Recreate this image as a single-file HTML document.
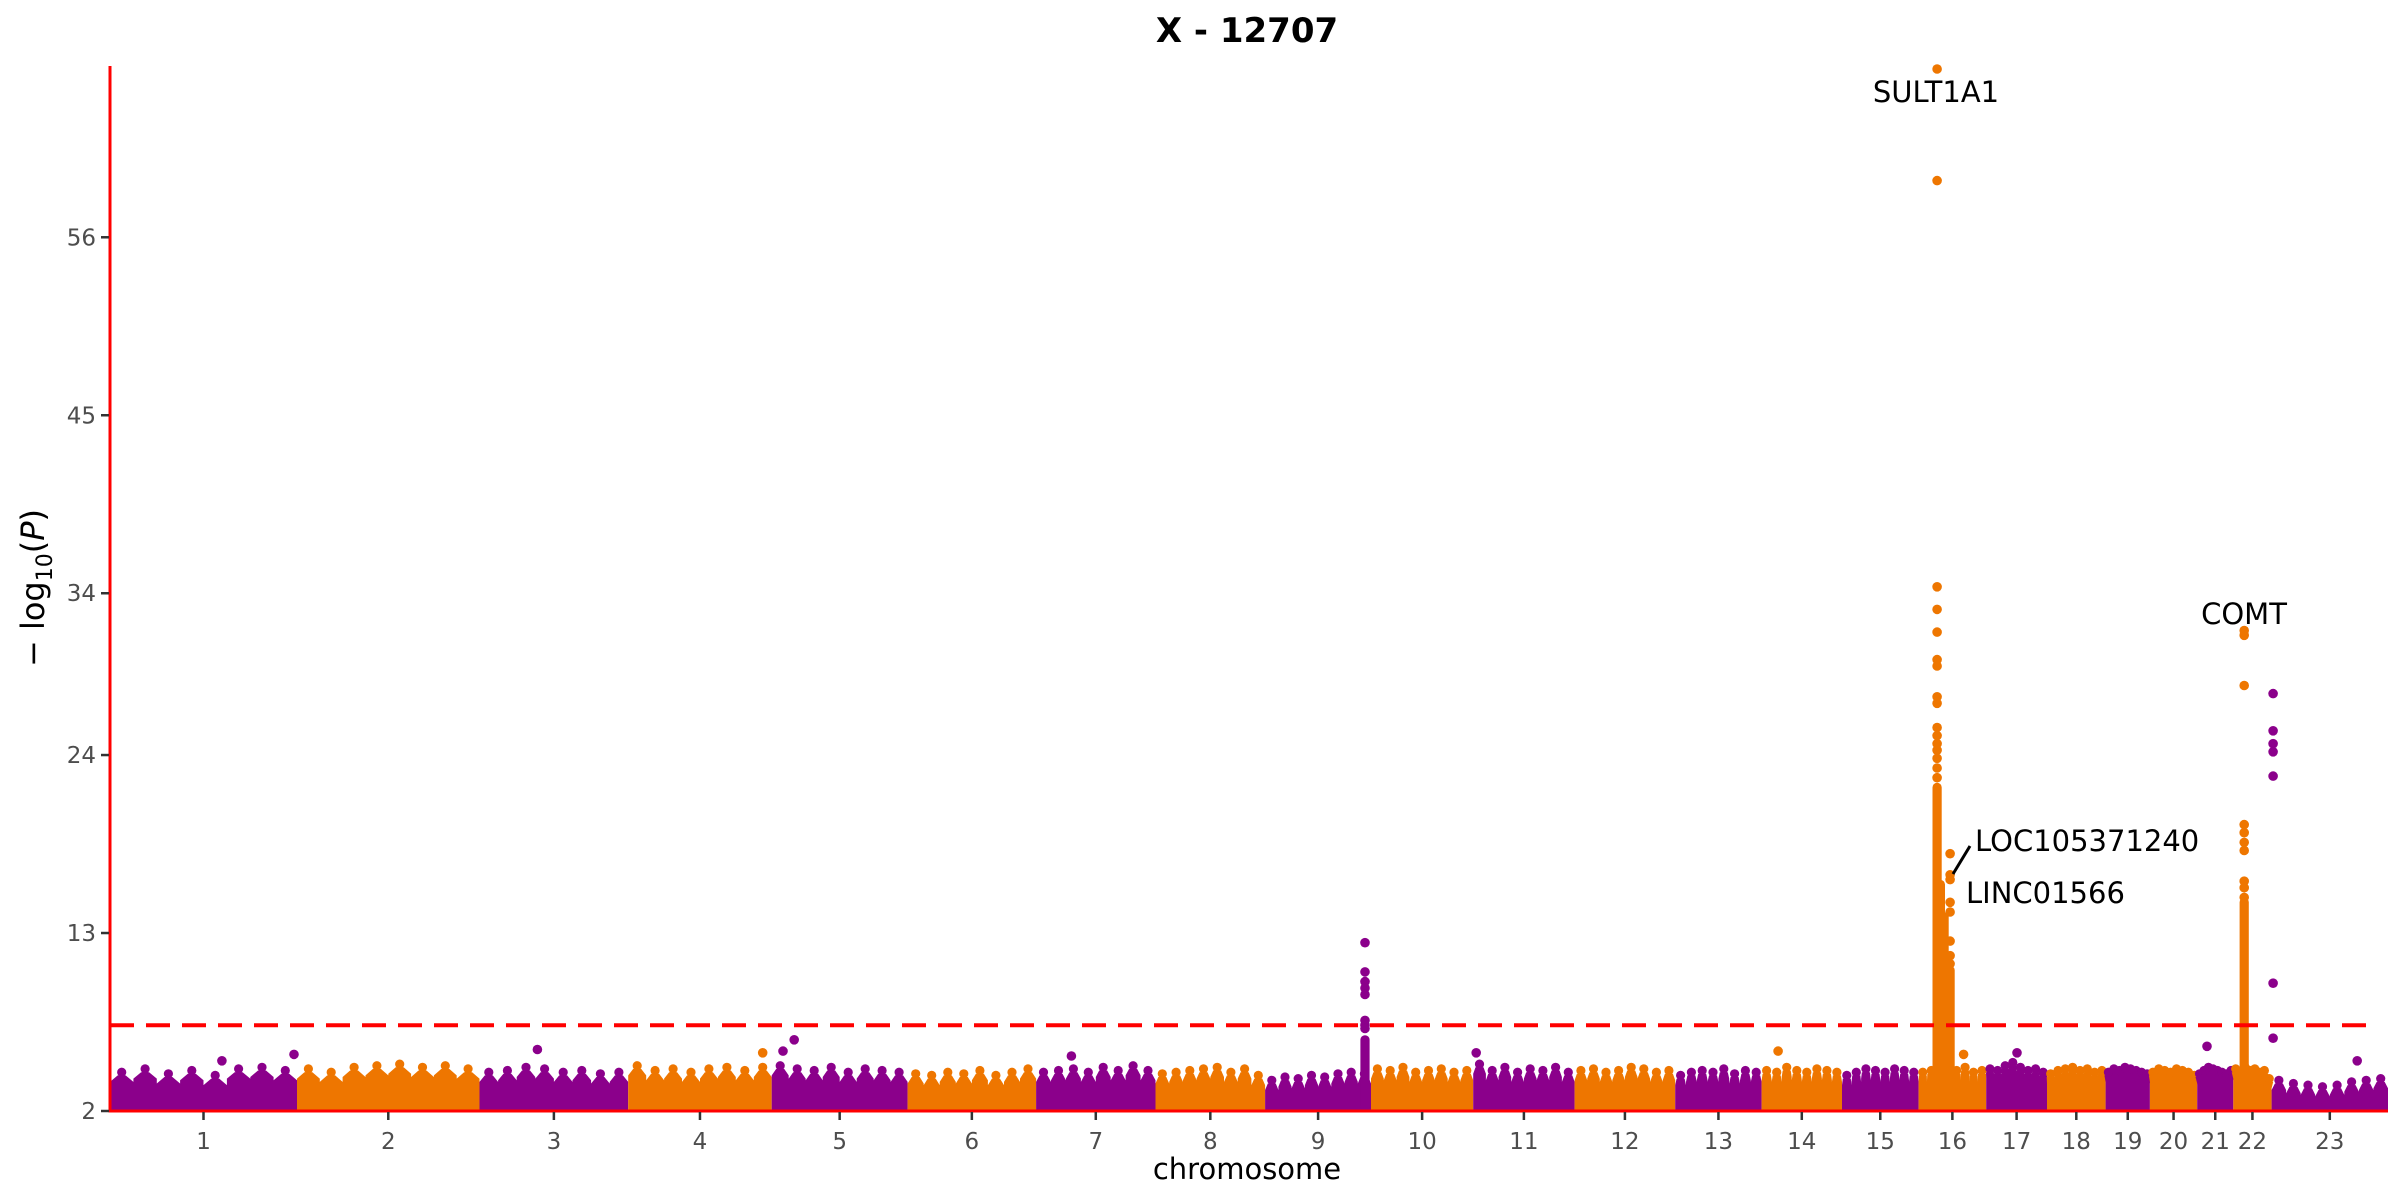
<!DOCTYPE html>
<html><head><meta charset="utf-8"><style>
html,body{margin:0;padding:0;background:#fff;}
svg{display:block;font-family:"DejaVu Sans","Liberation Sans",sans-serif;}
</style></head><body>
<svg id="chart" width="2400" height="1200" viewBox="0 0 2400 1200" xmlns="http://www.w3.org/2000/svg">
<text x="1247" y="42" text-anchor="middle" font-size="34" font-weight="bold" fill="#000">X - 12707</text>
<text transform="translate(44,588) rotate(-90)" text-anchor="middle" font-size="32" fill="#000">− log<tspan font-size="22" dy="8">10</tspan><tspan dy="-8">(</tspan><tspan font-style="italic">P</tspan>)</text>
<text x="1247" y="1179" text-anchor="middle" font-size="29" fill="#000">chromosome</text>
<g id="marks"></g>
<g id="axes"></g>
<g id="annot">
<text x="1936" y="102" text-anchor="middle" font-size="29">SULT1A1</text>
<text x="2244" y="624" text-anchor="middle" font-size="29">COMT</text>
<text x="1975" y="851" font-size="29">LOC105371240</text>
<text x="1966" y="903" font-size="29">LINC01566</text>
<line x1="1970" y1="846" x2="1953" y2="874" stroke="#000" stroke-width="3"/>
</g>
</svg>
<script>
const chrLengths=[249,243,198,191,181,171,159,146,141,136,135,134,115,107,102,90,81,78,59,63,48,51,155];
const chrLabels=["1","2","3","4","5","6","7","8","9","10","11","12","13","14","15","16","17","18","19","20","21","22","23"];
const yTicks=[2,13,24,34,45,56];
const threshold=7.3;
// background envelope heights (-log10 P) per chromosome, 8 samples each
const envelope=[
[4.4,4.6,4.3,4.5,4.2,4.6,4.7,4.5],
[4.6,4.4,4.7,4.8,4.9,4.7,4.8,4.6],
[4.4,4.5,4.7,4.6,4.4,4.5,4.3,4.4],
[4.8,4.5,4.6,4.4,4.6,4.7,4.5,4.7],
[4.8,4.6,4.5,4.7,4.4,4.6,4.5,4.4],
[4.3,4.2,4.4,4.3,4.5,4.2,4.4,4.6],
[4.4,4.5,4.6,4.4,4.7,4.5,4.8,4.5],
[4.3,4.4,4.5,4.6,4.7,4.4,4.6,4.2],
[3.9,4.1,4.0,4.2,4.1,4.3,4.4,4.3],
[4.6,4.5,4.7,4.4,4.5,4.6,4.4,4.5],
[4.9,4.5,4.7,4.4,4.6,4.5,4.7,4.4],
[4.5,4.6,4.4,4.5,4.7,4.6,4.4,4.5],
[4.2,4.4,4.5,4.4,4.6,4.3,4.5,4.4],
[4.5,4.4,4.7,4.5,4.4,4.6,4.5,4.4],
[4.2,4.4,4.6,4.5,4.4,4.6,4.5,4.4],
[4.4,4.5,4.6,4.4,4.5,4.7,4.4,4.5],
[4.6,4.5,4.8,5.0,4.7,4.5,4.6,4.4],
[4.3,4.5,4.6,4.7,4.5,4.6,4.4,4.5],
[4.4,4.6,4.5,4.7,4.6,4.5,4.4,4.3],
[4.4,4.6,4.5,4.4,4.6,4.5,4.4,4.2],
[4.3,4.5,4.7,4.6,4.5,4.4,4.3,4.5],
[4.6,4.4,4.7,4.5,4.6,4.4,4.5,4.0],
[3.9,3.7,3.6,3.5,3.6,3.8,3.9,4.0]
];
// dense significant columns: chromosome, position (Mb), top value
const colChr=[16,16,16,16,22,9];
const colPos=[24.7,29,34,42,14.5,133];
const colTop=[22.0,16.0,14.0,10.7,14.9,6.4];
// individual points: chromosome, position (Mb), value
const ptChr=[16,16,16,16,16,16,16,16,16,16,16,16,16,16,16,16, 16,16,16,16,16,16,16,16,
22,22,22,22,22,22,22,22,22,22, 23,23,23,23,23,23,23, 9,9,9,9,9,9,9,9,
1,1,3,4,5,5,7,11,14,16,17,21,23];
const ptPos=[24.7,24.7,24.7,24.7,24.7,24.7,24.7,24.7,24.7,24.7,24.7,24.7,24.7,24.7,24.7,24.7, 42,42,42,42,42,42,42,42,
14.5,14.5,14.5,14.5,14.5,14.5,14.5,14.5,14.5,14.5, 2,2,2,2,2,2,2, 133,133,133,133,133,133,133,133,
149,245,77,179,15,30,47,4,22,60,41,13,114];
const ptVal=[66.4,59.5,34.4,33.0,31.6,29.9,29.5,27.6,27.2,25.7,25.2,24.7,24.3,23.8,23.2,22.6, 17.9,16.6,16.3,14.9,14.3,12.5,11.6,11.1,
31.7,31.4,28.3,19.7,19.2,18.6,18.1,16.2,15.8,15.2, 27.8,25.5,24.7,24.2,22.7,9.9,6.5, 12.4,10.6,10.0,9.6,9.2,7.6,7.3,7.1,
5.1,5.5,5.8,5.6,5.7,6.4,5.4,5.6,5.7,5.5,5.6,6.0,5.1];

const NS="http://www.w3.org/2000/svg";
const X0=110,X1=2388,Y0=1111,YMIN=2,PXU=16.18;
const total=chrLengths.reduce((a,b)=>a+b,0);
const cum=[];let acc=0;for(const L of chrLengths){cum.push(acc);acc+=L;}
const kx=(X1-X0)/total;
function xs(chr,pos){return X0+(cum[chr-1]+pos)*kx;}
function ys(v){return Y0-(v-YMIN)*PXU;}
function col(chr){return chr%2===1?"#8B008B":"#EE7600";}
function mk(tag,attrs,parent){const e=document.createElementNS(NS,tag);for(const k in attrs)e.setAttribute(k,attrs[k]);parent.appendChild(e);return e;}
const marks=document.getElementById("marks");
const axes=document.getElementById("axes");

// background bands
envelope.forEach((env,ci)=>{
  const chr=ci+1,L=chrLengths[ci],n=env.length,c=col(chr);
  const g=mk("g",{},marks);
  
  
  let d="M"+xs(chr,0).toFixed(1)+","+Y0;
  env.forEach((v,i)=>{
    const a=xs(chr,L*i/n),b=xs(chr,L*(i+1)/n),m=(a+b)/2;
    const low=ys(Math.max(YMIN,v-0.6));
    d+=" L"+a.toFixed(1)+","+low.toFixed(1)+" L"+(m-4).toFixed(1)+","+ys(v-0.2).toFixed(1)+" L"+(m+4).toFixed(1)+","+ys(v-0.2).toFixed(1)+" L"+b.toFixed(1)+","+low.toFixed(1);
  });
  d+=" L"+xs(chr,L).toFixed(1)+","+Y0+" Z";
  mk("path",{d:d,fill:c},g);
  env.forEach((v,i)=>{
    const m=xs(chr,L*(i+0.5)/n);
    const p=mk("circle",{cx:m.toFixed(1),cy:ys(v).toFixed(1),r:4.6,fill:c},g);
    
    
  });
});
// dense columns
colChr.forEach((chr,i)=>{
  const x=xs(chr,colPos[i]),top=ys(colTop[i]);
  const r=mk("rect",{x:(x-4.6).toFixed(1),y:(top-4.6).toFixed(1),width:9.2,height:(Y0-top+4.6).toFixed(1),rx:4.6,fill:col(chr)},marks);
  
  
});
// points
ptChr.forEach((chr,i)=>{
  const p=mk("circle",{cx:xs(chr,ptPos[i]).toFixed(1),cy:ys(ptVal[i]).toFixed(1),r:4.8,fill:col(chr)},marks);
  
  
});
// threshold line
const th=mk("line",{x1:X0,x2:2378,y1:ys(threshold),y2:ys(threshold),stroke:"#FF0000","stroke-width":4,"stroke-dasharray":"24,12"},axes);


// axes lines
const ya=mk("line",{x1:X0,x2:X0,y1:66,y2:Y0+1.5,stroke:"#FF0000","stroke-width":3},axes);


const xa=mk("line",{x1:X0-1.5,x2:X1,y1:Y0,y2:Y0,stroke:"#FF0000","stroke-width":3},axes);


// y ticks
yTicks.forEach(v=>{
  const y=ys(v);
  const t=mk("line",{x1:X0-9,x2:X0-1,y1:y,y2:y,stroke:"#333","stroke-width":2.5},axes);
  
  
  const l=mk("text",{x:X0-14,y:y+8,"text-anchor":"end","font-size":23,fill:"#4d4d4d"},axes);
  
  
  l.textContent=v;
});
// x ticks
chrLabels.forEach((lab,i)=>{
  const x=xs(i+1,chrLengths[i]/2);
  const t=mk("line",{x1:x,x2:x,y1:Y0+1,y2:Y0+9,stroke:"#333","stroke-width":2.5},axes);
  
  
  const l=mk("text",{x:x,y:1149,"text-anchor":"middle","font-size":23,fill:"#4d4d4d"},axes);
  
  
  l.textContent=lab;
});
</script>
</body></html>
